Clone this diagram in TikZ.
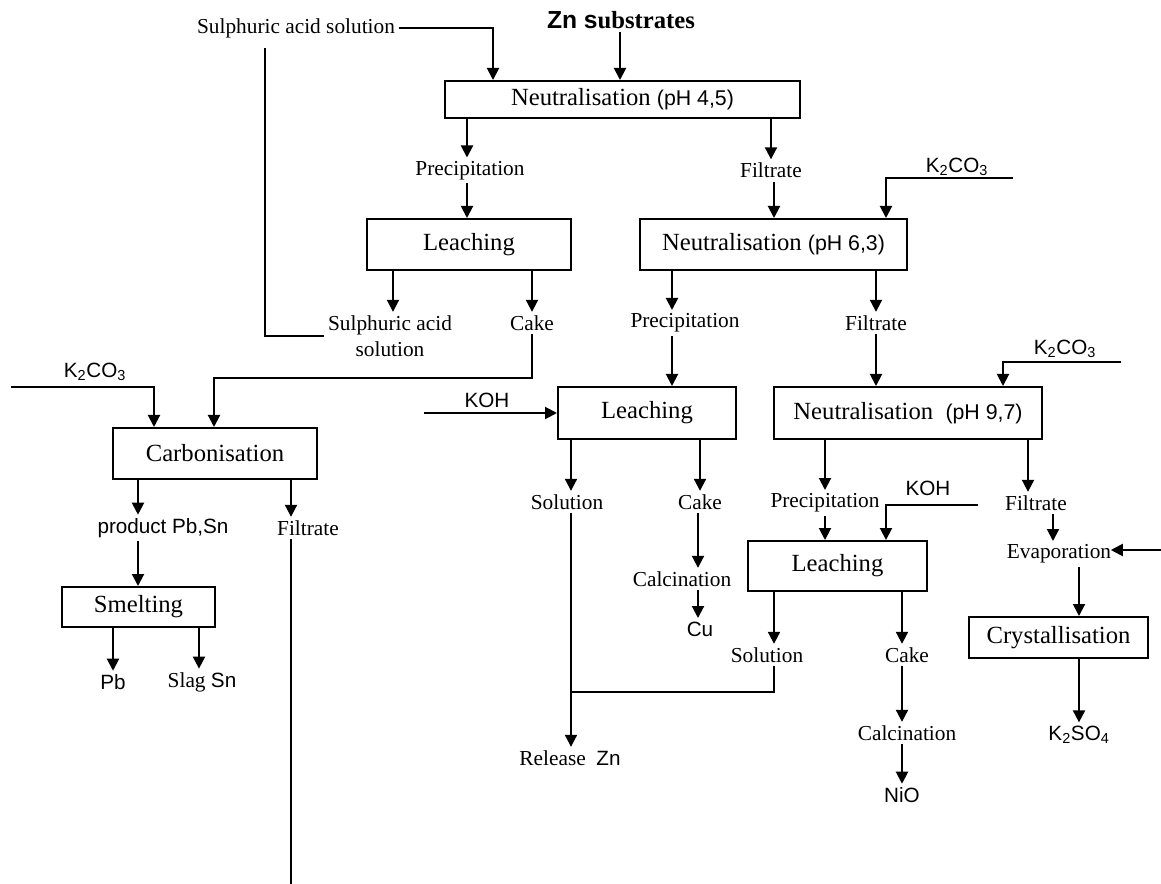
\documentclass[tikz,border=0pt]{standalone}
\usepackage{fontspec}
\setmainfont{Liberation Serif}
\setsansfont{Liberation Sans}
\usetikzlibrary{arrows.meta,calc}
\newcommand{\phs}[1]{{\fontsize{16}{18}\sffamily #1}}
\newcommand{\sfl}[1]{{\fontsize{15.5}{17}\sffamily #1}}
\begin{document}
\begin{tikzpicture}[x=0.75pt,y=-0.75pt,
  line width=1.5pt,
  arr/.style={-{Triangle[length=9pt,width=9pt]}},
  box/.style={draw, line width=1.5pt, inner sep=0pt, font=\fontsize{18.5}{20}\selectfont},
  bx/.style n args={2}{minimum width=#1*0.75pt, minimum height=#2*0.75pt},
  lbl/.style={inner sep=2pt, font=\fontsize{16}{18}\selectfont},
  slbl/.style={inner sep=2pt, font=\fontsize{15.5}{17}\sffamily}]
\useasboundingbox (0,0) rectangle (1161,884);

% ---------- boxes ----------
\node[box, bx={355}{37}] (N1) at (622.5,99.5) {Neutralisation \phs{(pH 4,5)}};
\node[box, bx={204}{51}] (L1) at (469,244.5) {Leaching};
\node[box, bx={267}{51}] (N2) at (773.5,244.5) {Neutralisation \phs{(pH 6,3)}};
\node[box, bx={178}{52}] (L2) at (647,413) {Leaching};
\node[box, bx={268}{52}] (N3) at (908,413) {Neutralisation\ \ \phs{(pH 9,7)}};
\node[box, bx={204}{51}] (C) at (215,453.5) {Carbonisation};
\node[box, bx={153}{40}] (S) at (138.5,607) {Smelting};
\node[box, bx={179}{50}] (L3) at (837.5,566) {Leaching};
\node[box, bx={179}{41}] (Cr) at (1058.5,637.5) {Crystallisation};

% ---------- labels ----------
\node[lbl] (sas) at (296,28) {Sulphuric acid solution};
\node[inner sep=2pt, font=\fontsize{18.5}{20}\selectfont\bfseries] (zn) at (621,20) {{\sffamily Zn s}ubstrates};
\node[lbl] (prec1) at (470,170.5) {Precipitation};
\node[lbl] (filt1) at (771,170.5) {Filtrate};
\node[lbl, align=center, font=\fontsize{16}{19.5}\selectfont] (sas2) at (390,336) {Sulphuric acid\\solution};
\node[lbl] (cake1) at (532,323) {Cake};
\node[lbl] (prec2) at (685,323) {Precipitation};
\node[lbl] (filt2) at (876,323) {Filtrate};
\node[slbl] (k2a) at (957,167) {K\textsubscript{2}CO\textsubscript{3}};
\node[slbl] (k2b) at (1065,349) {K\textsubscript{2}CO\textsubscript{3}};
\node[slbl] (k2c) at (95,372) {K\textsubscript{2}CO\textsubscript{3}};
\node[slbl] (koh1) at (487,400) {KOH};
\node[slbl] (koh2) at (928,488) {KOH};
\node[lbl] (sol1) at (567,502) {Solution};
\node[lbl] (cake2) at (700,502) {Cake};
\node[lbl] (calc1) at (682,579) {Calcination};
\node[slbl] (cu) at (700,629) {Cu};
\node[lbl] (prec3) at (825,503) {Precipitation};
\node[lbl] (filt3) at (1036,503) {Filtrate};
\node[lbl] (evap) at (1059,554) {Evaporation};
\node[slbl] (k2so4) at (1079,735) {K\textsubscript{2}SO\textsubscript{4}};
\node[lbl] (sol2) at (767,655) {Solution};
\node[lbl] (cake3) at (907,655) {Cake};
\node[lbl] (calc2) at (907,733) {Calcination};
\node[slbl] (nio) at (902,795) {NiO};
\node[lbl] (release) at (570,758) {Release\ \ \sfl{Zn}};
\node[slbl] (prod) at (163,528) {product Pb,Sn};
\node[lbl] (filt4) at (308,528) {Filtrate};
\node[slbl] (pb) at (113,682) {Pb};
\node[lbl] (slag) at (202,682) {Slag \sfl{Sn}};

% ---------- helper coordinates ----------
\foreach \v in {113,138,154,199,214,291,393,467,493,532,571,620,672,698,700,771,774,825,876,886,902,1003,1028,1053,1079}
  \coordinate (x\v) at (\v,0);
\coordinate (r1top) at (265,48);
\coordinate (j1) at (532,378);
\coordinate (kc) at (11,387);
\coordinate (fend) at (291,884);
\coordinate (ka) at (1013,178);
\coordinate (kb) at (424,413);
\coordinate (kk) at (1121,362);
\coordinate (kd) at (978,505);
\coordinate (ke) at (1161,550);
\coordinate (jz) at (571,692);

% ---------- connectors ----------
\draw[arr] (sas.east) -| (N1.north -| x493);
\draw[arr] (zn.south -| x620) -- (N1.north -| x620);
\draw[arr] (N1.south -| x467) -- (prec1.north -| x467);
\draw[arr] (N1.south -| x771) -- (filt1.north -| x771);
\draw[arr] (prec1.south -| x467) -- (L1.north -| x467);
\draw[arr] (filt1.south -| x774) -- (N2.north -| x774);
\draw[arr] (L1.south -| x393) -- (sas2.north -| x393);
\draw[arr] (L1.south -| x532) -- (cake1.north -| x532);
\draw (sas2.west) -| (r1top);
\draw[arr] (cake1.south -| x532) -- (j1) -| (C.north -| x214);
\draw[arr] (kc) -| (C.north -| x154);
\draw[arr] (C.south -| x138) -- (prod.north -| x138);
\draw[arr] (C.south -| x291) -- (filt4.north -| x291);
\draw[arr] (prod.south -| x138) -- (S.north -| x138);
\draw[arr] (S.south -| x113) -- (pb.north -| x113);
\draw[arr] (S.south -| x199) -- (slag.north -| x199);
\draw (filt4.south -| x291) -- (fend);
\draw[arr] (ka) -| (N2.north -| x886);
\draw[arr] (N2.south -| x672) -- (prec2.north -| x672);
\draw[arr] (N2.south -| x876) -- (filt2.north -| x876);
\draw[arr] (prec2.south -| x672) -- (L2.north -| x672);
\draw[arr] (filt2.south -| x876) -- (N3.north -| x876);
\draw[arr] (kb) -- (L2.west);
\draw[arr] (L2.south -| x571) -- (sol1.north -| x571);
\draw[arr] (L2.south -| x700) -- (cake2.north -| x700);
\draw[arr] (cake2.south -| x698) -- (calc1.north -| x698);
\draw[arr] (calc1.south -| x698) -- (cu.north -| x698);
\draw[arr] (kk) -| (N3.north -| x1003);
\draw[arr] (N3.south -| x825) -- (prec3.north -| x825);
\draw[arr] (N3.south -| x1028) -- (filt3.north -| x1028);
\draw[arr] (prec3.south -| x825) -- (L3.north -| x825);
\draw[arr] (kd) -| (L3.north -| x886);
\draw[arr] (filt3.south -| x1053) -- (evap.north -| x1053);
\draw[arr] (ke) -- ([xshift=-3pt]ke -| evap.east);
\draw[arr] (evap.south -| x1079) -- (Cr.north -| x1079);
\draw[arr] (Cr.south -| x1079) -- (k2so4.north -| x1079);
\draw[arr] (L3.south -| x774) -- (sol2.north -| x774);
\draw[arr] (L3.south -| x902) -- (cake3.north -| x902);
\draw[arr] (cake3.south -| x902) -- (calc2.north -| x902);
\draw[arr] (calc2.south -| x902) -- (nio.north -| x902);
\draw (sol1.south -| x571) -- (jz);
\draw (sol2.south -| x774) |- (jz);
\draw[arr] (jz) -- (release.north -| x571);
\end{tikzpicture}
\end{document}
